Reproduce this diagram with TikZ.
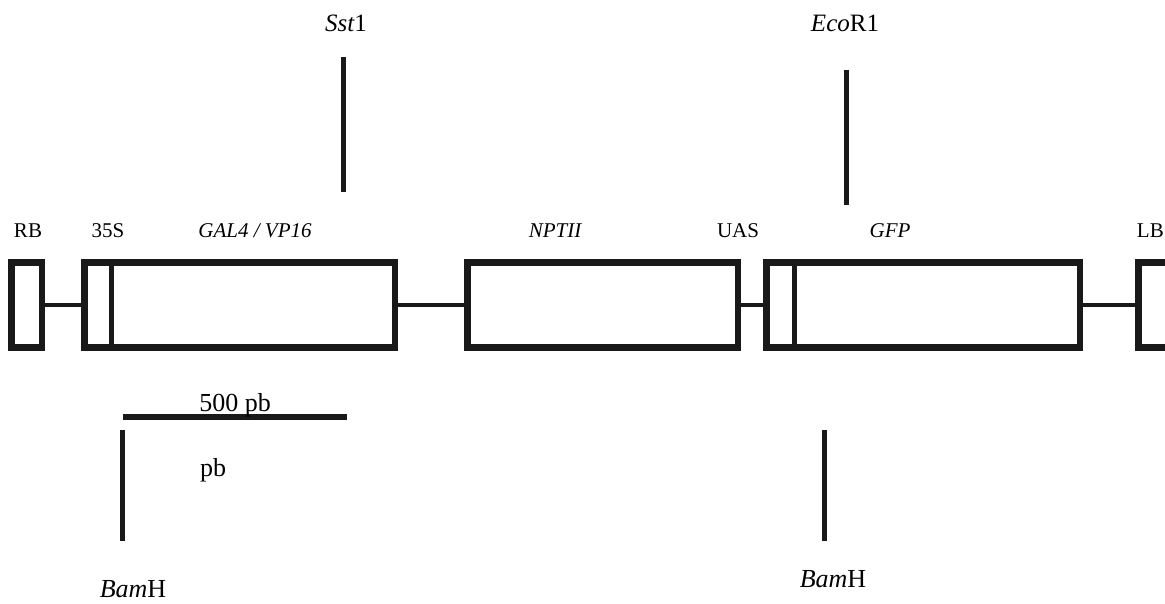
\documentclass[tikz,border=0pt]{standalone}
\usepackage{fontspec}
\setmainfont{Liberation Serif}
\begin{document}
\begin{tikzpicture}[x=1pt,y=-1pt,
  gene/.style={draw=black!90,line width=6.5pt,rectangle,inner sep=0pt,minimum height=85pt},
  link/.style={draw=black!90,line width=4pt},
  site/.style={draw=black!90,line width=5pt},
  lab/.style={font=\fontsize{21}{23}\selectfont,anchor=base,inner sep=0pt},
  itlab/.style={lab,font=\fontsize{21}{23}\selectfont\itshape},
  toplab/.style={font=\fontsize{25}{27}\selectfont\itshape,anchor=base,inner sep=0pt},
  botlab/.style={font=\fontsize{26}{28}\selectfont,anchor=base,inner sep=0pt}]
\clip (0,0) rectangle (1165,604);
\useasboundingbox (0,0) rectangle (1165,604);
% boxes
\node[gene,minimum width=30.5pt] (rb) at (26.5,305) {};
\node[gene,minimum width=310.5pt] (gal) at (239.5,305) {};
\node[gene,minimum width=270.5pt] (npt) at (602.5,305) {};
\node[gene,minimum width=313.5pt] (gfp) at (923,305) {};
\node[gene,minimum width=30.5pt] (lb) at (1153.5,305) {};
% dividers
\draw[draw=black!90,line width=5pt] (111,265) -- (111,345);
\draw[draw=black!90,line width=5pt] (794,265) -- (794,345);
% connectors
\draw[link] (rb.east) -- (gal.west);
\draw[link] (gal.east) -- (npt.west);
\draw[link] (npt.east) -- (gfp.west);
\draw[link] (gfp.east) -- (lb.west);
% row labels
\node[lab] (lrb) at (28,238) {RB};
\node[lab] (l35) at (108,238) {35S};
\node[itlab] (lgal) at (255,238) {GAL4 / VP16};
\node[itlab] (lnpt) at (555,238) {NPTII};
\node[lab] (luas) at (738,238) {UAS};
\node[itlab] (lgfp) at (890,238) {GFP};
\node[lab,anchor=base east] (llb) at (1164,238) {LB};
% top sites
\node[toplab] (sst) at (346,32) {Sst{\upshape 1}};
\node[toplab] (eco) at (845,32) {Eco{\upshape R1}};
\coordinate (s1) at (343,57);
\coordinate (s2) at (343,192);
\coordinate (e1) at (846,70);
\coordinate (e2) at (846,205);
\draw[site] (s1) -- (s2);
\draw[site] (e1) -- (e2);
% scale bar
\coordinate (sb1) at (123,417);
\coordinate (sb2) at (347,417);
\draw[draw=black!90,line width=6pt] (sb1) -- (sb2);
\node[botlab] (l500) at (235,411) {500 pb};
\node[botlab] (lpb) at (213,476) {pb};
% bottom sites
\coordinate (b1) at (122,430);
\coordinate (b2) at (122,541);
\coordinate (c1) at (824,430);
\coordinate (c2) at (824,541);
\draw[site] (b1) -- (b2);
\draw[site] (c1) -- (c2);
\node[botlab] (bam1) at (133,597) {\itshape Bam\upshape H};
\node[botlab] (bam2) at (833,587) {\itshape Bam\upshape H};
\end{tikzpicture}
\end{document}
